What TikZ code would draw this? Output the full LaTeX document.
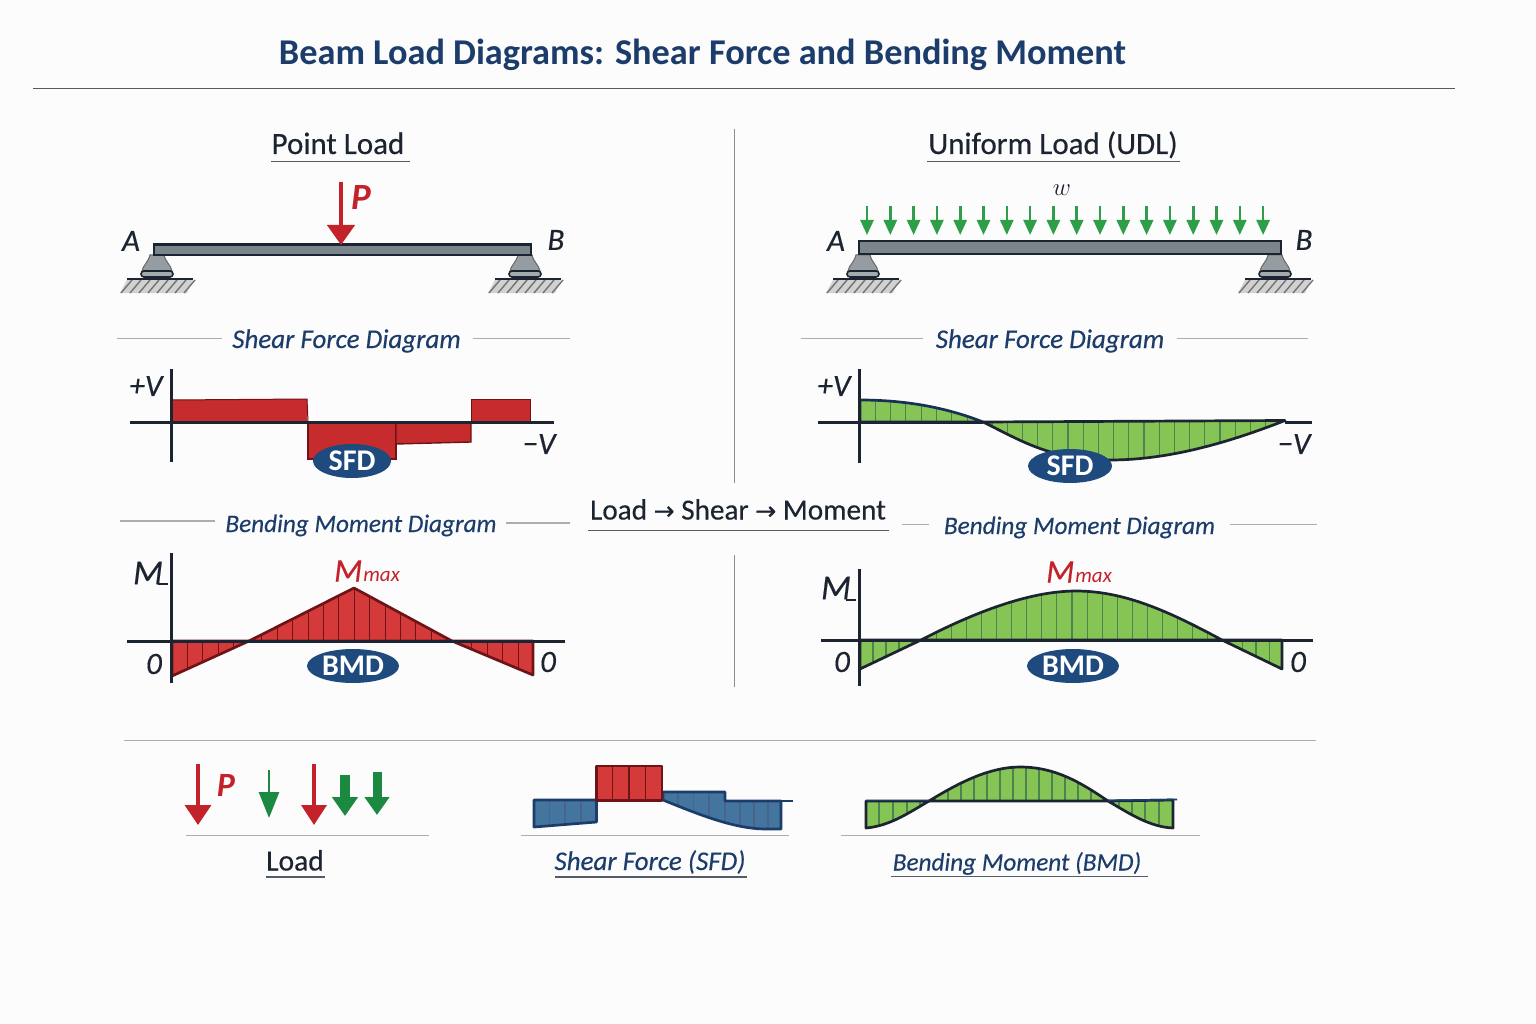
\documentclass[tikz,border=0pt]{standalone}
\usepackage{fontspec}
\setmainfont{Carlito}
\newfontfamily\medfont[FakeBold=0.35,ItalicFeatures={FakeBold=0.35}]{Carlito}
\newfontfamily\arrowfont[FakeBold=0.5]{DejaVu Sans}
\usetikzlibrary{shapes.geometric,arrows.meta}
\definecolor{navy}{HTML}{1C3D6B}
\definecolor{ink}{HTML}{1B2430}
\definecolor{rulegray}{HTML}{A9AEB3}
\definecolor{barred}{HTML}{C62B2E}
\definecolor{bmdred}{HTML}{D43A3A}
\definecolor{darkred}{HTML}{6E1417}
\definecolor{arrowred}{HTML}{C4222B}
\definecolor{arrowgreen}{HTML}{2F9E48}
\definecolor{deepgreen}{HTML}{1B8A40}
\definecolor{barg}{HTML}{86C456}
\definecolor{tickg}{HTML}{4A8550}
\definecolor{barblue}{HTML}{44759F}
\definecolor{pillblue}{HTML}{1F4A7D}
\definecolor{steel}{HTML}{7B858C}
\definecolor{steellight}{HTML}{A3ABB1}
\newcommand{\fsz}[1]{\fontsize{#1}{#1}\selectfont}
% path, fill, tick colour, outline colour, x-list, ymin, ymax
\newcommand{\hatched}[7]{%
  \path[fill=#2] #1;
  \begin{scope}\clip #1;
    \foreach \xx in {#5} {\draw[#3,line width=1.1pt] (\xx,#6) -- (\xx,#7);}
  \end{scope}
  \draw[#4,line width=2.7pt,line join=round] #1;
}
\tikzset{
  titletxt/.style={font=\fsz{36.3}\bfseries,text=navy,inner sep=0pt,anchor=base},
  headtxt/.style={font=\medfont\fsz{31},text=ink,inner sep=0pt,anchor=base},
  subtxt/.style={font=\medfont\itshape\fsz{27},text=navy,inner sep=0pt,anchor=base},
  subsmall/.style={font=\medfont\itshape\fsz{25.2},text=navy,inner sep=0pt,anchor=base},
  labeltxt/.style={font=\medfont\itshape\fsz{31},text=ink,inner sep=0pt},
  redtxt/.style={font=\itshape,text=arrowred,inner sep=0pt},
  thinrule/.style={draw=rulegray,line width=1.4pt},
  underrule/.style={draw=ink!75,line width=1.4pt},
  dividerrule/.style={draw=black!45,line width=1pt},
  axisline/.style={draw=ink,line width=2.4pt},
  pill/.style={ellipse,fill=pillblue,text=white,font=\fsz{30}\bfseries,inner sep=0pt},
  beambar/.style={draw=ink,line width=2.6pt,fill=steel},
  udlarrow/.style={arrowgreen,line width=2.6pt,-{Triangle[length=15pt,width=13pt]}},
  pics/support/.style={code={
    \fill[black!18] (-37,38) -- (-30,25) -- (36,25) -- (30,38) -- cycle;
    \foreach \i in {-36,-27,...,27} {\draw[black!55,line width=1.4pt] (\i,38) -- (\i+11,25);}
    \draw[ink,line width=2.6pt] (-30,24) -- (36,24);
    \draw[black!60,line width=1pt,fill=steel!80] (-7,0) -- (7,0) .. controls (9,8) and (14,10) .. (15,16) -- (-15,16) .. controls (-14,10) and (-9,8) .. (-7,0) -- cycle;
    \draw[ink,line width=1.6pt,fill=steellight,rounded corners=3pt] (-16,16) rectangle (16,22);
  }}
}
\begin{document}
\begin{tikzpicture}[x=1pt,y=-1pt]
\useasboundingbox (0,0) rectangle (1536,1024);
\fill[white!99!black] (0,0) rectangle (1536,1024);

% Title
\node[titletxt] (title) at (702.5,64.5) {Beam Load Diagrams: Shear Force and Bending Moment};
\draw[black!65,line width=1.1pt] (33,88.5) -- (1455,88.5);

% Central dividers
\draw[dividerrule] (734,129) -- (734,483);
\draw[dividerrule] (734,555) -- (734,687);

% Section headings
\node[headtxt] (hpoint) at (338,154) {Point Load};
\draw[underrule] (271,161.5) -- (410,161.5);
\node[headtxt] (hudl) at (1053,154) {Uniform Load (UDL)};
\draw[underrule] (927,161.5) -- (1180,161.5);

% ---- Point-load beam
\pic at (157,255) {support};
\pic at (525,255) {support};
\draw[beambar] (154,244.5) rectangle (531,255);
\draw[arrowred,line width=4.5pt,-{Triangle[length=20pt,width=27pt]}] (341,182) -- (341,245);
\node[font=\fsz{37}\bfseries\itshape,text=arrowred,inner sep=0pt] (pP) at (361,198) {P};
\node[labeltxt] (pA) at (131,241) {A};
\node[labeltxt] (pB) at (556,240) {B};

% ---- UDL beam
\pic at (863,255) {support};
\pic at (1275,255) {support};
\draw[beambar] (859,241) rectangle (1281,254);
\foreach \k in {0,...,17} {\draw[udlarrow] ({867+23.3*\k},206) -- ({867+23.3*\k},235);}
\node[font=\fsz{34},text=ink,inner sep=0pt] (uw) at (1062,190) {$w$};
\node[labeltxt] (uA) at (836,241) {A};
\node[labeltxt] (uB) at (1304,240) {B};

% ---- Shear headings
\node[subtxt] (s1) at (346.5,348) {Shear Force Diagram};
\draw[thinrule] (117,338.5) -- (222,338.5);
\draw[thinrule] (473,338.5) -- (570,338.5);
\node[subtxt] (s2) at (1050,348) {Shear Force Diagram};
\draw[thinrule] (801,338.5) -- (923,338.5);
\draw[thinrule] (1177,338.5) -- (1308,338.5);

% ---- Left SFD
\fill[barred] (172,400) -- (307,399) -- (307,422) -- (172,422) -- cycle;
\fill[barred] (471,399) -- (530,399) -- (530,422) -- (471,422) -- cycle;
\draw[darkred,line width=1pt] (171,400) -- (307,399) -- (308,422);
\draw[darkred,line width=1pt] (471,422) -- (471,399) -- (530,399) -- (530,422);
\draw[darkred,line width=1.4pt,fill=barred] (308,422) -- (308,459) -- (396,459) -- (396,422) -- cycle;
\draw[darkred,line width=1.4pt,fill=barred] (396,422) -- (396,444) -- (471,442) -- (471,422) -- cycle;
\draw[axisline] (130,422.5) -- (554,422.5);
\draw[axisline] (171.5,369) -- (171.5,462);
\node[pill,minimum width=78pt,minimum height=34pt] (sfd1) at (352,461) {SFD};
\node[labeltxt] (v1p) at (146,386) {+V};
\node[labeltxt] (v1m) at (539,444) {\textminus V};

% ---- Right SFD
\hatched{(860,400) .. controls (910,400) and (950,409) .. (983,422) -- (860,422) -- cycle}{barg}{tickg}{navy!80!black}{860,875.3,...,985}{395}{425}
\hatched{(983,422) -- (1285,420.5) .. controls (1230,442) and (1170,460) .. (1110,460) .. controls (1050,460) and (1020,440) .. (983,422) -- cycle}{barg}{tickg}{ink}{992,1007.2,...,1290}{415}{465}
\draw[axisline] (818,422.5) -- (983,422.5);
\draw[axisline] (1285,422.5) -- (1312,422.5);
\draw[axisline] (859.5,369) -- (859.5,463);
\node[pill,minimum width=84pt,minimum height=34pt] (sfd2) at (1070,466) {SFD};
\node[labeltxt] (v2p) at (834,386) {+V};
\node[labeltxt] (v2m) at (1294,444) {\textminus V};

% ---- Bending headings
\node[subsmall] (b1) at (361,532) {Bending Moment Diagram};
\draw[thinrule] (120,521) -- (215,521);
\draw[thinrule] (506,523) -- (570,523);
\node[subsmall] (b2) at (1079.5,534) {Bending Moment Diagram};
\draw[thinrule] (902,524.5) -- (929,524.5);
\draw[thinrule] (1230,524.5) -- (1317,524.5);

% Centre caption
\node[font=\medfont\fsz{29.2},text=ink,inner sep=0pt,anchor=base] (chain) at (738,519.5) {Load {\arrowfont\fsz{25}→} Shear {\arrowfont\fsz{25}→} Moment};
\draw[underrule] (588,530.5) -- (889,530.5);

% ---- Left BMD
\hatched{(172,641) -- (172,676) -- (249,641) -- cycle}{bmdred}{darkred}{darkred}{172,187.4,...,250}{635}{680}
\hatched{(249,641) -- (354,588) -- (452,641) -- cycle}{bmdred}{darkred}{darkred}{246.5,261.9,...,460}{585}{645}
\hatched{(452,641) -- (533,675) -- (533,641) -- cycle}{bmdred}{darkred}{darkred}{456.5,471.9,...,534}{635}{680}
\draw[axisline] (127,641.5) -- (565,641.5);
\draw[axisline] (171.5,553) -- (171.5,683);
\node[pill,minimum width=92pt,minimum height=34pt] (bmd1) at (353,666) {BMD};
\node[font=\medfont\itshape\fsz{35},text=ink,inner sep=0pt] (m1) at (148,573) {M};
\draw[ink,line width=2pt] (158,583.5) -- (168,583.5);
\node[redtxt] (mx1) at (367,571) {{\medfont\itshape\fsz{33}M}\hspace{1pt}{\fsz{21}max}};
\node[labeltxt] (z1) at (154,664) {0};
\node[labeltxt] (z2) at (548,662) {0};

% ---- Right BMD
\hatched{(860,640) -- (860,669) -- (921,640) -- cycle}{barg}{tickg}{ink}{860,873,...,925}{635}{675}
\hatched{(921,640) .. controls (975,612) and (1030,591) .. (1076,591) .. controls (1125,591) and (1170,612) .. (1222,640) -- cycle}{barg}{tickg}{ink}{921,936.1,...,1225}{585}{645}
\hatched{(1222,640) -- (1282,669) -- (1282,640) -- cycle}{barg}{tickg}{ink}{1229,1242.5,...,1283}{635}{675}
\draw[axisline] (821,640.5) -- (1313,640.5);
\draw[axisline] (859.5,569) -- (859.5,686);
\node[pill,minimum width=92pt,minimum height=34pt] (bmd2) at (1073,666) {BMD};
\node[font=\medfont\itshape\fsz{35},text=ink,inner sep=0pt] (m2) at (836,588) {M};
\draw[ink,line width=2pt] (846,599.5) -- (856,599.5);
\node[redtxt] (mx2) at (1079,572) {{\medfont\itshape\fsz{33}M}\hspace{1pt}{\fsz{21}max}};
\node[labeltxt] (z3) at (842,662) {0};
\node[labeltxt] (z4) at (1298,662) {0};

% ---- Bottom legend
\draw[thinrule] (124,740.5) -- (1316,740.5);

\draw[arrowred,line width=3.6pt,-{Triangle[length=20pt,width=26pt]}] (198,764) -- (198,825);
\node[font=\fsz{34}\bfseries\itshape,text=arrowred,inner sep=0pt] (lP) at (226,785) {P};
\draw[deepgreen,line width=2.8pt,-{Triangle[length=26pt,width=20pt]}] (269,770) -- (269,818);
\draw[arrowred,line width=3.6pt,-{Triangle[length=20pt,width=25pt]}] (314,764) -- (314,825);
\draw[deepgreen,line width=10pt,-{Triangle[length=19pt,width=25pt]}] (345,775) -- (345,816);
\draw[deepgreen,line width=9pt,-{Triangle[length=18pt,width=24pt]}] (377,772) -- (377,815);

\draw[thinrule] (186,835.5) -- (429,835.5);
\node[headtxt,font=\medfont\fsz{29.5}] (lLoad) at (295,870.5) {Load};
\draw[underrule] (266,877) -- (325,877);

\hatched{(534,800) -- (596.5,800) -- (596.5,822) -- (534,827) -- cycle}{barblue}{navy!80}{navy}{549.5,565,581}{795}{830}
\hatched{(663,792) -- (725,792) -- (725,801) -- (781,801) -- (781,829) -- (766,829) .. controls (735,829) and (700,815) .. (663,800) -- cycle}{barblue}{navy!80}{navy}{678,693.5,709,725,740,754,768}{788}{832}
\draw[navy,line width=2pt] (781,801) -- (793,801);
\hatched{(596.5,766) -- (662,766) -- (662,800.5) -- (596.5,800.5) -- cycle}{bmdred}{darkred}{darkred}{612.5,629,645.5}{760}{805}

\draw[thinrule] (521,835.5) -- (789,835.5);
\node[subtxt] (lS) at (650,870) {Shear Force (SFD)};
\draw[underrule] (555,877) -- (747,877);

\hatched{(866,801) -- (866,828) .. controls (890,826) and (910,812) .. (929,801) -- cycle}{barg}{tickg}{ink}{879,893,907,920}{795}{832}
\hatched{(929,801) .. controls (960,782) and (990,767) .. (1020,767) .. controls (1055,767) and (1080,782) .. (1108,801) -- cycle}{barg}{tickg}{ink}{935,948,...,1105}{762}{805}
\hatched{(1108,801) .. controls (1130,814) and (1150,827) .. (1173,828) -- (1173,800) -- cycle}{barg}{tickg}{ink}{1119,1132,1145,1159}{795}{832}
\draw[navy,line width=1.8pt] (865,800.5) -- (929,800.5);
\draw[navy,line width=1.8pt] (1108,800.5) -- (1177,799.5);

\draw[thinrule] (841,835.5) -- (1200,835.5);
\node[subsmall] (lB) at (1017,870.5) {Bending Moment (BMD)};
\draw[underrule] (891,876.5) -- (1148,876.5);
\end{tikzpicture}
\end{document}
